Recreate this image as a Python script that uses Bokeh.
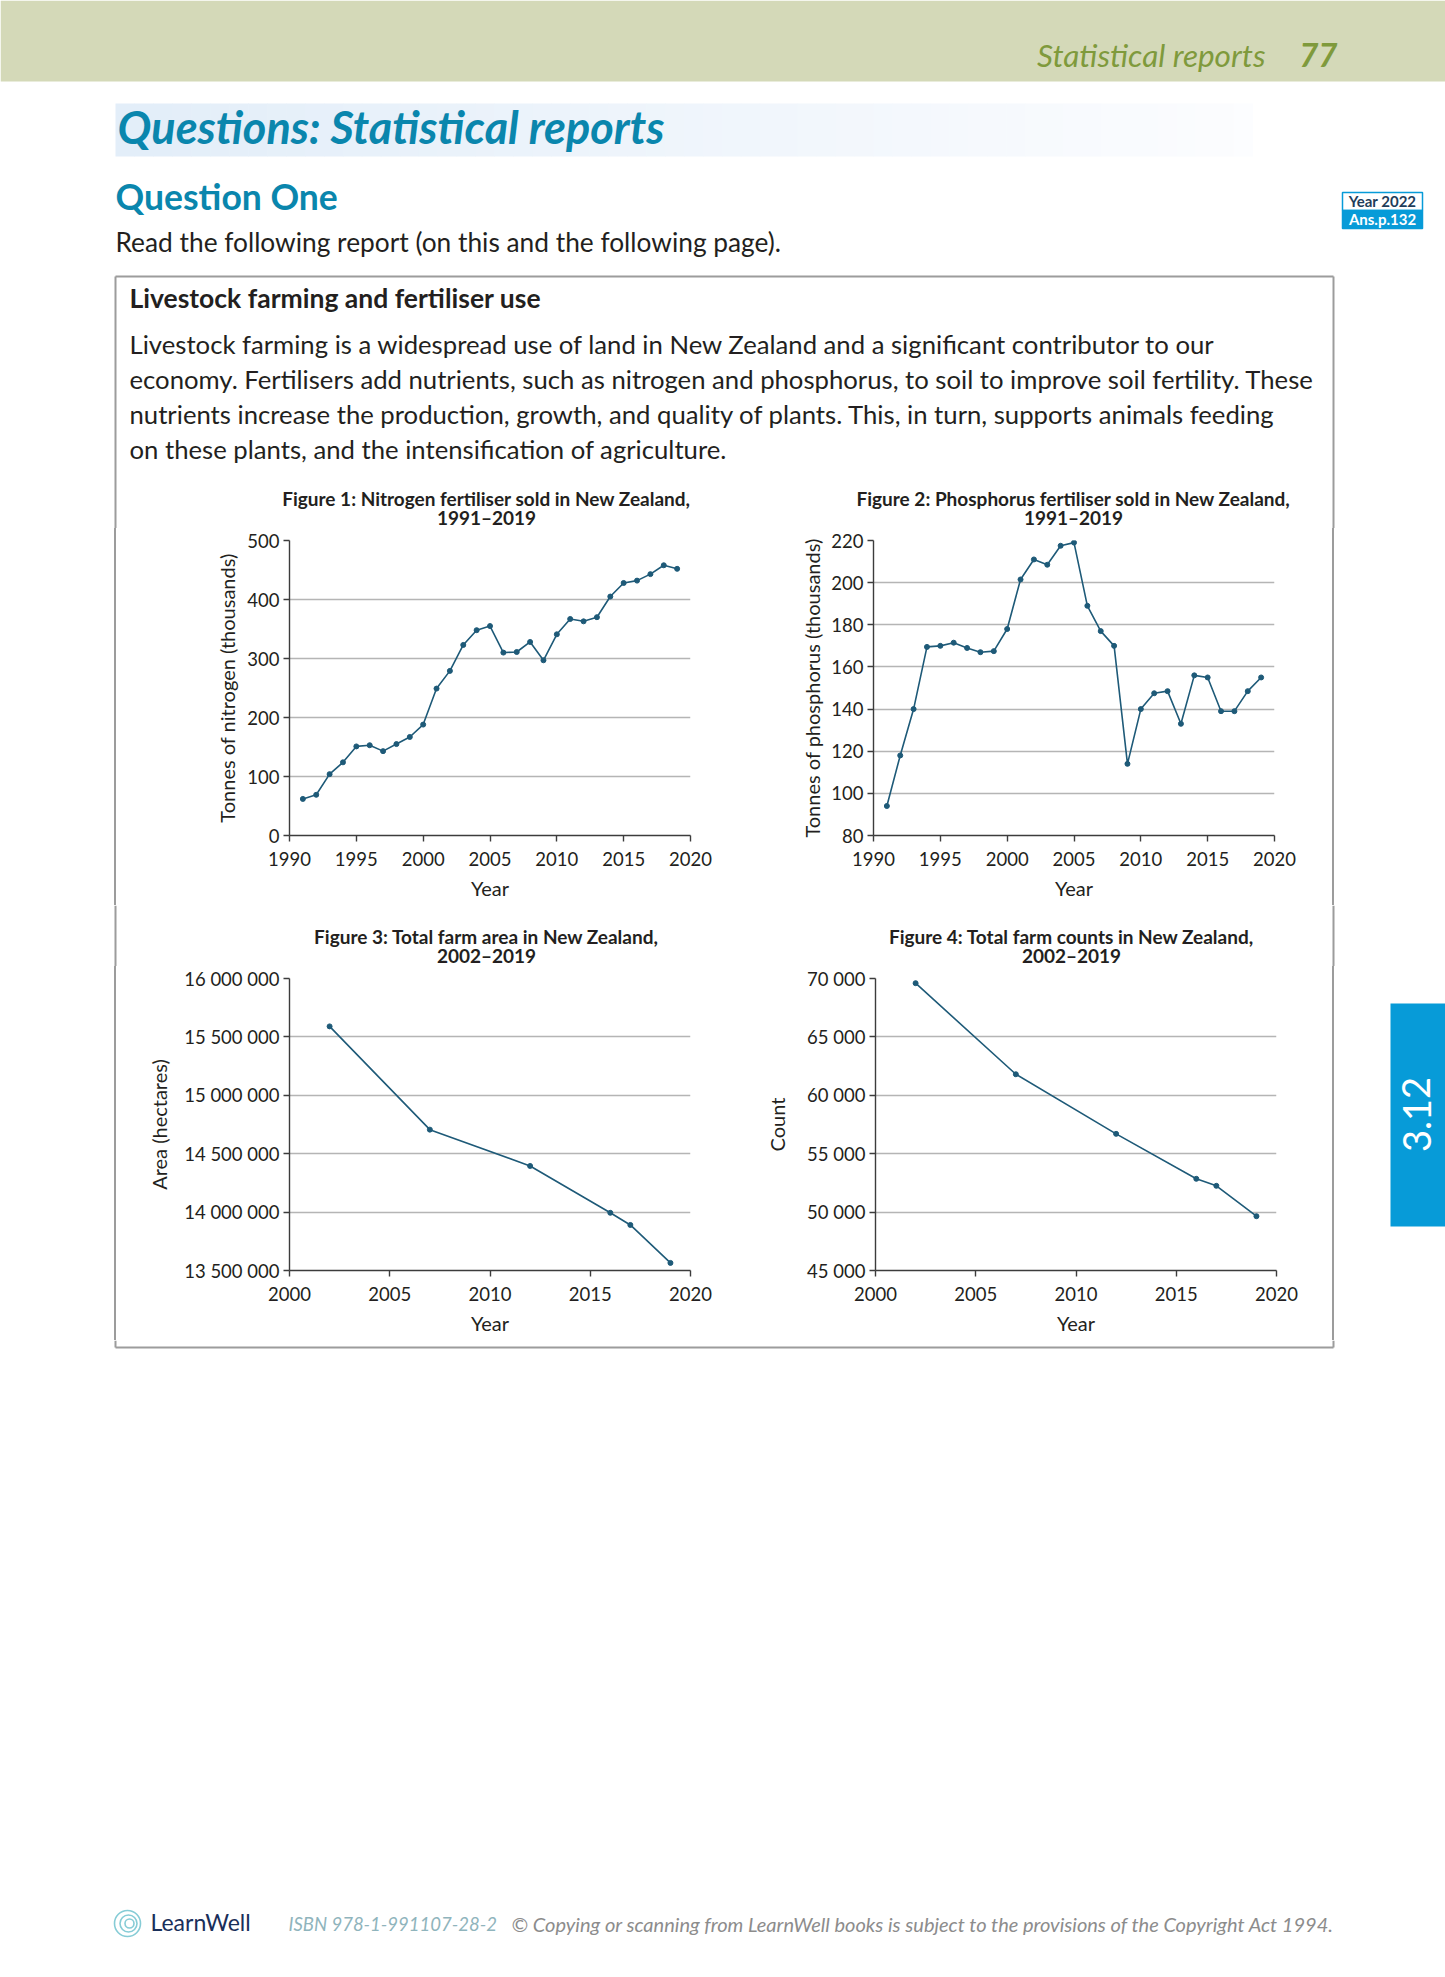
from bokeh.plotting import figure
from bokeh.layouts import column, row
from bokeh.models import Range1d, FixedTicker, CustomJSTickFormatter, Div
from bokeh.core.properties import value
from bokeh.embed import file_html
from bokeh.resources import INLINE

# ---------------- data ----------------
fert_years = list(range(1991, 2020))
nitrogen = [62, 69, 104, 124, 151, 153, 143, 155, 167, 188, 249, 279, 323, 348, 355,
            310, 311, 328, 297, 341, 367, 363, 370, 405, 428, 432, 443, 458, 452]
phosphorus = [94, 118, 140, 169.5, 170, 171.5, 169, 167, 167.5, 178, 201.5, 211, 208.5,
              217.5, 219, 189, 177, 170, 114, 140, 147.5, 148.5, 133, 156, 155, 139,
              139, 148.5, 155]
farm_years = [2002, 2007, 2012, 2016, 2017, 2019]
farm_area = [15590000, 14706000, 14395000, 13994000, 13890000, 13565000]
farm_counts = [69600, 61800, 56700, 52850, 52250, 49650]

fert_year_ticks = [1990, 1995, 2000, 2005, 2010, 2015, 2020]
farm_year_ticks = [2000, 2005, 2010, 2015, 2020]
nitrogen_ticks = [0, 100, 200, 300, 400, 500]
phosphorus_ticks = [80, 100, 120, 140, 160, 180, 200, 220]
area_ticks = [13500000, 14000000, 14500000, 15000000, 15500000, 16000000]
count_ticks = [45000, 50000, 55000, 60000, 65000, 70000]

chart_titles = [
    ("Figure 1: Nitrogen fertiliser sold in New Zealand,", "1991–2019"),
    ("Figure 2: Phosphorus fertiliser sold in New Zealand,", "1991–2019"),
    ("Figure 3: Total farm area in New Zealand,", "2002–2019"),
    ("Figure 4: Total farm counts in New Zealand,", "2002–2019"),
]

paragraph = [
    "Livestock farming is a widespread use of land in New Zealand and a significant contributor to our",
    "economy. Fertilisers add nutrients, such as nitrogen and phosphorus, to soil to improve soil fertility. These",
    "nutrients increase the production, growth, and quality of plants. This, in turn, supports animals feeding",
    "on these plants, and the intensification of agriculture.",
]

FONT = "Lato"
INK = "#231f20"
LINE = "#1e5a78"
BOXC = "#9c9c9c"
BLUE = "#0a86ad"
TAB = "#079bd8"


def page_fig(x0, x1, y0, y1):
    p = figure(width=x1 - x0, height=y1 - y0, x_range=Range1d(x0, x1),
               y_range=Range1d(y1, y0), output_backend="svg", toolbar_location=None,
               title=None, x_axis_location=None, y_axis_location=None, min_border=0)
    p.grid.visible = False
    p.outline_line_color = None
    p.background_fill_color = "white"
    p.border_fill_color = "white"
    return p


def txt(p, x, y, s, size, color=INK, style="normal", align="left", baseline="alphabetic", angle=0):
    px = float(size.replace("px", ""))
    if baseline == "alphabetic":
        y = y - 0.35 * px
    p.text(x=[x], y=[y], text=[s], text_font=value(FONT), text_font_size=size,
           text_font_style=style, text_color=color, text_align=align,
           text_baseline=baseline, angle=angle)


def chart_title(p, xc, y_line1, pair):
    txt(p, xc, y_line1, pair[0], "19px", style="bold", align="center")
    txt(p, xc, y_line1 + 19, pair[1], "19px", style="bold", align="center")


def vline_css(pos):
    return {"background": "linear-gradient(to right, transparent %dpx, %s %dpx, %s %dpx, transparent %dpx)"
            % (pos - 1, BOXC, pos - 1, BOXC, pos + 1, pos + 1)}


# ---------------- top of page ----------------
TOP_END = 528
top = page_fig(0, 1445, 0, TOP_END)
top.quad(left=[0], right=[1445], top=[0], bottom=[81], fill_color="#d4d9b8", line_color=None)
txt(top, 1265, 66, "Statistical reports", "31.5px", color="#7f9a3c", style="italic", align="right")
txt(top, 1337, 66, "77", "33px", color="#7f9a3c", style="bold italic", align="right")

# gradient title band
n = 60
xs = [115 + (1252 - 115) * i / n for i in range(n + 1)]
cols = []
for i in range(n):
    t = i / (n - 1)
    r = int(227 + (252 - 227) * t)
    g = int(238 + (253 - 238) * t)
    b = int(249 + (255 - 249) * t)
    cols.append("#%02x%02x%02x" % (r, g, b))
top.quad(left=xs[:-1], right=[x + 0.6 for x in xs[1:]], top=[103] * n, bottom=[156] * n,
         fill_color=cols, line_color=None)
txt(top, 117, 142, "Questions: Statistical reports", "45px", color=BLUE, style="bold italic")
txt(top, 115, 208, "Question One", "35.5px", color=BLUE, style="bold")

# Year / Ans box
top.quad(left=[1342], right=[1422], top=[192], bottom=[210], fill_color="white",
         line_color=TAB, line_width=1.5)
top.quad(left=[1342], right=[1422], top=[210], bottom=[228], fill_color=TAB,
         line_color=TAB, line_width=1.5)
txt(top, 1382, 206, "Year 2022", "15px", color="#1f3d5a", style="bold", align="center")
txt(top, 1382, 224, "Ans.p.132", "15px", color="white", style="bold", align="center")

txt(top, 115, 251, "Read the following report (on this and the following page).", "26.3px")

# report box (upper part)
top.segment(x0=[115, 115, 1333], y0=[276, 276, 276], x1=[1333, 115, 1333],
            y1=[276, TOP_END, TOP_END], line_color=BOXC, line_width=2)
txt(top, 129, 307, "Livestock farming and fertiliser use", "26.5px", style="bold")
for i, line in enumerate(paragraph):
    txt(top, 129, 352 + i * 35.3, line, "25.7px")

chart_title(top, 486, 504.6, chart_titles[0])
chart_title(top, 1073, 504.6, chart_titles[1])


# ---------------- charts ----------------
def chart(width, height, fl, fw, ft, fh, xr, yr, xticks, yticks, xs_, ys_,
          ylabel, ylab_standoff, big=False):
    p = figure(width=width, height=height, x_range=Range1d(*xr), y_range=Range1d(*yr),
               output_backend="svg", toolbar_location=None, title=None,
               min_border_left=fl, min_border_right=width - fl - fw,
               min_border_top=ft, min_border_bottom=height - ft - fh)
    p.outline_line_color = None
    p.background_fill_color = "white"
    p.border_fill_color = "white"
    p.xgrid.visible = False
    p.ygrid.grid_line_color = "#b5b5b5"
    p.ygrid.grid_line_width = 1.4
    p.xaxis.ticker = FixedTicker(ticks=xticks)
    p.yaxis.ticker = FixedTicker(ticks=yticks)
    if big:
        p.yaxis.formatter = CustomJSTickFormatter(
            code="return tick.toFixed(0).replace(/\\B(?=(\\d{3})+(?!\\d))/g, ' ');")
    for ax in (p.xaxis, p.yaxis):
        ax.axis_line_color = "#3c3c3c"
        ax.axis_line_width = 1.4
        ax.major_tick_line_color = "#3c3c3c"
        ax.major_tick_line_width = 1.4
        ax.major_tick_out = 6
        ax.major_tick_in = 0
        ax.minor_tick_line_color = None
        ax.major_label_text_font = FONT
        ax.major_label_text_font_size = "18.5px"
        ax.major_label_text_color = INK
        ax.axis_label_text_font = FONT
        ax.axis_label_text_font_size = "20px"
        ax.axis_label_text_font_style = "normal"
        ax.axis_label_text_color = INK
    p.xaxis.major_label_standoff = 10
    p.yaxis.major_label_standoff = 4
    p.xaxis.axis_label = "Year"
    p.xaxis.axis_label_standoff = 7
    p.yaxis.axis_label = ylabel
    p.yaxis.axis_label_standoff = ylab_standoff
    p.line(xs_, ys_, line_color=LINE, line_width=1.6)
    p.scatter(xs_, ys_, size=5, fill_color=LINE, line_color=LINE)
    return p


ROWA_H = 905 - TOP_END          # 377
c1 = chart(580, ROWA_H, 149, 401, 540 - TOP_END, 295, (1990, 2020), (0, 500),
           fert_year_ticks, nitrogen_ticks, fert_years, nitrogen,
           "Tonnes of nitrogen (thousands)", 5)
c2 = chart(590, ROWA_H, 153, 401, 540 - TOP_END, 295, (1990, 2020), (80, 220),
           fert_year_ticks, phosphorus_ticks, fert_years, phosphorus,
           "Tonnes of phosphorus (thousands)", 4)

MID_END = 966
ROWB_H = 1340 - MID_END         # 374
c3 = chart(580, ROWB_H, 149, 401, 978 - MID_END, 292, (2000, 2020), (13500000, 16000000),
           farm_year_ticks, area_ticks, farm_years, farm_area, "Area (hectares)", 10, big=True)
c4 = chart(590, ROWB_H, 155, 401, 978 - MID_END, 292, (2000, 2020), (45000, 70000),
           farm_year_ticks, count_ticks, farm_years, farm_counts, "Count", 15, big=True)

# side strips carrying the report-box borders
lA = Div(text="", width=140, height=ROWA_H, margin=0, styles=vline_css(115))
rA = Div(text="", width=135, height=ROWA_H, margin=0, styles=vline_css(23))
lB = Div(text="", width=140, height=ROWB_H, margin=0, styles=vline_css(115))

# band holding the titles of figures 3 and 4
mid = page_fig(0, 1445, 905, MID_END)
mid.segment(x0=[115, 1333], y0=[905, 905], x1=[115, 1333], y1=[MID_END, MID_END],
            line_color=BOXC, line_width=2)
chart_title(mid, 486, 942.6, chart_titles[2])
chart_title(mid, 1071, 942.6, chart_titles[3])

# right strip of lower row: frame spans y 978..1270 (aligned with the chart frames)
rB = figure(width=135, height=ROWB_H, x_range=Range1d(1310, 1445), y_range=Range1d(1270, 978),
            output_backend="svg", toolbar_location=None, title=None, x_axis_location=None,
            y_axis_location=None, min_border_left=0, min_border_right=0,
            min_border_top=978 - MID_END, min_border_bottom=70)
rB.grid.visible = False
rB.outline_line_color = None
rB.background_fill_alpha = 0
rB.border_fill_alpha = 0
rB.styles = vline_css(23)
rB.quad(left=[1390], right=[1445], top=[1003], bottom=[1226], fill_color=TAB, line_color=None)
txt(rB, 1416, 1114, "3.12", "38px", color="white", align="center", baseline="middle",
    angle=1.5708)

# ---------------- bottom of page ----------------
bot = page_fig(0, 1445, 1340, 1976)
bot.segment(x0=[115, 115, 1333], y0=[1347, 1340, 1340], x1=[1333, 115, 1333], y1=[1347, 1347, 1347],
            line_color=BOXC, line_width=2)
bot.circle(x=[127, 128, 129], y=[1923, 1923, 1923], radius=[13, 8.5, 4.5], fill_color=None,
           line_color="#86ccd6", line_width=1.6)
txt(bot, 150, 1930, "LearnWell", "23px", color="#1a2f5a")
txt(bot, 288, 1930, "ISBN 978-1-991107-28-2", "18.5px", color="#8fb4bc", style="italic")
txt(bot, 1334, 1930,
    "© Copying or scanning from LearnWell books is subject to the provisions of the Copyright Act 1994.",
    "20px", color="#8c8c8c", style="italic", align="right")

layout = column(top, row(lA, c1, c2, rA), mid, row(lB, c3, c4, rB), bot)
open("out.html", "w").write(file_html(layout, INLINE))
